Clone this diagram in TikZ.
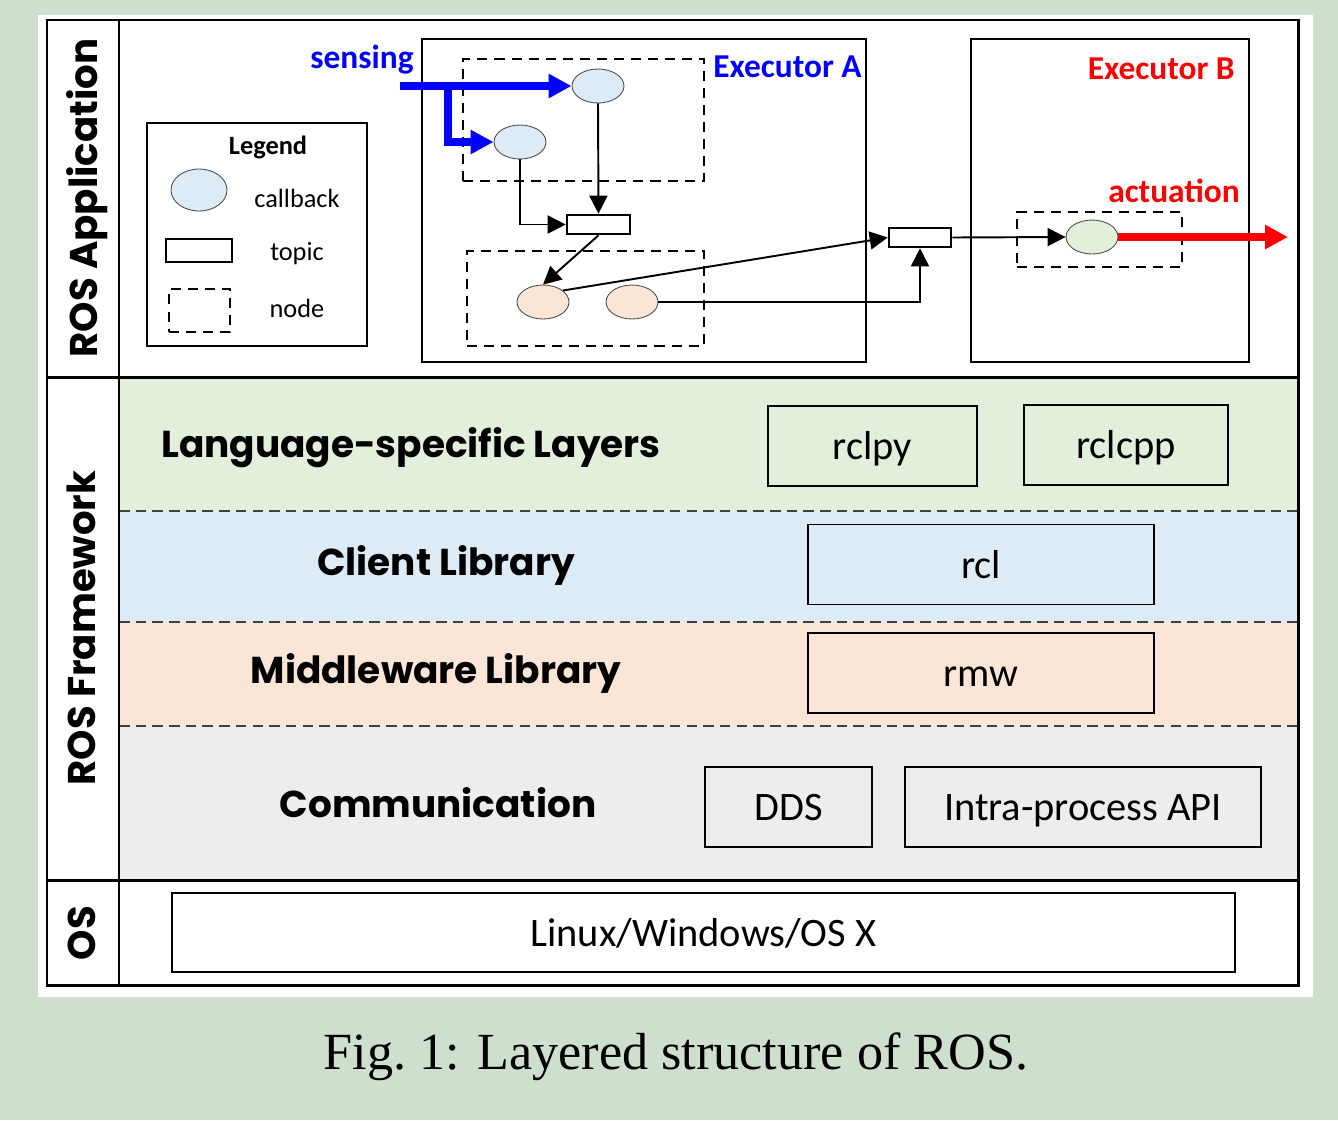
\documentclass[tikz,border=0pt]{standalone}
\usepackage{fontspec}
\setmainfont{Carlito}
\newfontfamily\headfont{Poppins}
\newfontfamily\capfont{Liberation Serif}
\usetikzlibrary{arrows.meta, positioning, shapes.geometric}

\definecolor{pagegreen}{RGB}{206,224,205}
\definecolor{langgreen}{RGB}{226,239,218}
\definecolor{clientblue}{RGB}{221,235,247}
\definecolor{mwpeach}{RGB}{251,229,214}
\definecolor{commgray}{RGB}{237,237,237}
\definecolor{sensblue}{RGB}{0,0,255}
\definecolor{actred}{RGB}{255,0,0}

\begin{document}
\begin{tikzpicture}[
  x=0.02cm, y=-0.02cm,
  frame line/.style={line width=1.7pt},
  lib box/.style={draw, line width=1.1pt, inner sep=0pt, minimum height=1.6cm,
    text height=0.55cm, text depth=0pt, font=\fontsize{23}{27}\selectfont},
  layer label/.style={anchor=base, font=\headfont\bfseries\fontsize{21.3}{26}\selectfont},
  side label/.style={rotate=90, anchor=base, font=\headfont\bfseries\fontsize{22}{26}\selectfont},
  layer sep/.style={dash pattern=on 6pt off 3.5pt, line width=0.7pt, black!75},
  executor box/.style={draw, line width=0.85pt, inner sep=0pt, minimum height=6.46cm},
  ros node/.style={draw, line width=1.1pt, dash pattern=on 5.7pt off 4pt, inner sep=0pt},
  callback/.style={draw=black!70, line width=0.5pt, ellipse, inner sep=0pt,
    minimum width=1.04cm, minimum height=0.68cm},
  topic box/.style={draw, line width=1.5pt, inner sep=0pt, minimum width=1.26cm, minimum height=0.38cm},
  flow/.style={-{Triangle[length=0.36cm,width=0.36cm]}, line width=1.1pt},
  io arrow/.style={-{Triangle[length=0.46cm,width=0.46cm]}, line width=4.5pt},
  legend text/.style={anchor=base, font=\fontsize{15}{18}\selectfont},
  exec label/.style={anchor=base, inner sep=0pt, font=\bfseries\fontsize{19}{23}\selectfont}
]
  % page and white panel
  \fill[pagegreen] (0,0) rectangle (1338,1120);
  \useasboundingbox (0,0) rectangle (1338,1120);
  \fill[white] (38,15) rectangle (1313,997);

  % framework bands
  \foreach \ytop/\ybot/\col in {377/511/langgreen, 511/622/clientblue, 622/726/mwpeach, 726/880/commgray}
    \fill[\col] (119,\ytop) rectangle (1297,\ybot);
  \foreach \y in {511,622,726}
    \draw[layer sep] (119,\y) -- (1297,\y);

  % outer frame
  \draw[frame line] (47,20) rectangle (1298,985);
  \draw[frame line] (119,20) -- (119,985);
  \draw[frame line] (47,377) -- (1298,377);
  \draw[frame line] (47,880) -- (1298,880);

  % side labels
  \node[side label] (app)   at (97,198) {ROS Application};
  \node[side label] (frame) at (95,628) {ROS Framework};
  \node[side label] (os)    at (95,933) {OS};

  % layer labels
  \foreach \name/\x/\y/\txt in {lang/411/457/Language-specific Layers, client/446/575/Client Library,
    mw/436/683/Middleware Library, comm/438/817/Communication}
    \node[layer label] (\name) at (\x,\y) {\txt};

  % library boxes
  \node[lib box, fill=langgreen, minimum width=4.18cm] (rclpy) at (872.5,446) {rclpy};
  \node[lib box, fill=langgreen, minimum width=4.08cm] (rclcpp) at (1126,445) {rclcpp};
  \node[lib box, fill=clientblue, minimum width=6.92cm] (rcl) at (981,564.5) {rcl};
  \node[lib box, fill=mwpeach, minimum width=6.92cm] (rmw) at (981,673) {rmw};
  \node[lib box, fill=commgray, minimum width=3.34cm] (dds) at (788.5,807) {DDS};
  \node[lib box, fill=commgray, minimum width=7.12cm] (intra) at (1083,807) {Intra-process API};
  \node[lib box, fill=white, minimum width=21.26cm, minimum height=1.58cm] (linux) at (703.5,932.5) {Linux/Windows/OS X};

  % legend
  \node[draw, line width=1.4pt, inner sep=0pt, minimum width=4.4cm, minimum height=4.46cm] (legend) at (257,234.5) {};
  \node[legend text, font=\bfseries\fontsize{15}{18}\selectfont] (legtitle) at (268,154) {Legend};
  \node[callback, fill=clientblue, minimum width=1.12cm, minimum height=0.84cm] (legcb) at (199,190) {};
  \node[topic box, minimum width=1.32cm, minimum height=0.46cm] (legtopic) at (199,250.5) {};
  \node[ros node, minimum width=1.22cm, minimum height=0.86cm] (legnode) at (199.5,310.5) {};
  \node[legend text] (legcbtxt) at (297,207) {callback};
  \node[legend text] (legtopictxt) at (297,260) {topic};
  \node[legend text] (legnodetxt) at (297,317) {node};

  % executors
  \node[executor box, minimum width=8.88cm] (execA) at (644,200.5) {};
  \node[executor box, minimum width=5.56cm] (execB) at (1110,200.5) {};
  \node[exec label, sensblue, anchor=base east] (execAtxt) at (862,77) {Executor A};
  \node[exec label, actred, anchor=base east] (execBtxt) at (1235,79) {Executor B};
  \node[exec label, sensblue] (sensing) at (362,68) {sensing};
  \node[exec label, actred] (actuation) at (1174,202) {actuation};

  % ros nodes and callbacks
  \node[ros node, minimum width=4.82cm, minimum height=2.44cm] (nodeA1) at (583.5,120) {};
  \node[ros node, minimum width=4.74cm, minimum height=1.9cm] (nodeA2) at (585.5,298.5) {};
  \node[ros node, minimum width=3.3cm, minimum height=1.1cm] (nodeB) at (1099.5,239.5) {};
  \node[callback, fill=clientblue] (cbA1) at (598,86) {};
  \node[callback, fill=clientblue] (cbA2) at (520,142) {};
  \node[callback, fill=mwpeach] (cbC1) at (543,302) {};
  \node[callback, fill=mwpeach] (cbC2) at (632,302) {};
  \node[callback, fill=langgreen] (cbB) at (1092,237) {};
  \node[topic box, fill=white] (topicA) at (598.5,224.5) {};
  \node[topic box, fill=white, minimum width=1.24cm] (topicB) at (920,237.5) {};

  % sensing and actuation
  \coordinate (sense) at (400,86);
  \coordinate (branch) at (448,86);
  \coordinate (actend) at (1288,237);
  \draw[io arrow, sensblue] (sense) -- (cbA1.west);
  \draw[io arrow, sensblue] (branch) |- (cbA2.west);
  \draw[io arrow, actred] (cbB.east) -- (actend);

  % data flow
  \draw[flow] (cbA1.south) -- (topicA.north);
  \draw[flow] (cbA2.south) |- (topicA.west);
  \draw[flow] (topicA.south) -- (cbC1.north);
  \draw[flow] (cbC1.30) -- (topicB.west);
  \draw[flow] (cbC2.east) -| (topicB.south);
  \draw[flow] (topicB.east) -- (cbB.west);

  % caption
  \node[anchor=base, font=\capfont\fontsize{29.7}{34}\selectfont] (caption) at (676,1069) {Fig.~1: Layered structure of ROS.};
\end{tikzpicture}
\end{document}
